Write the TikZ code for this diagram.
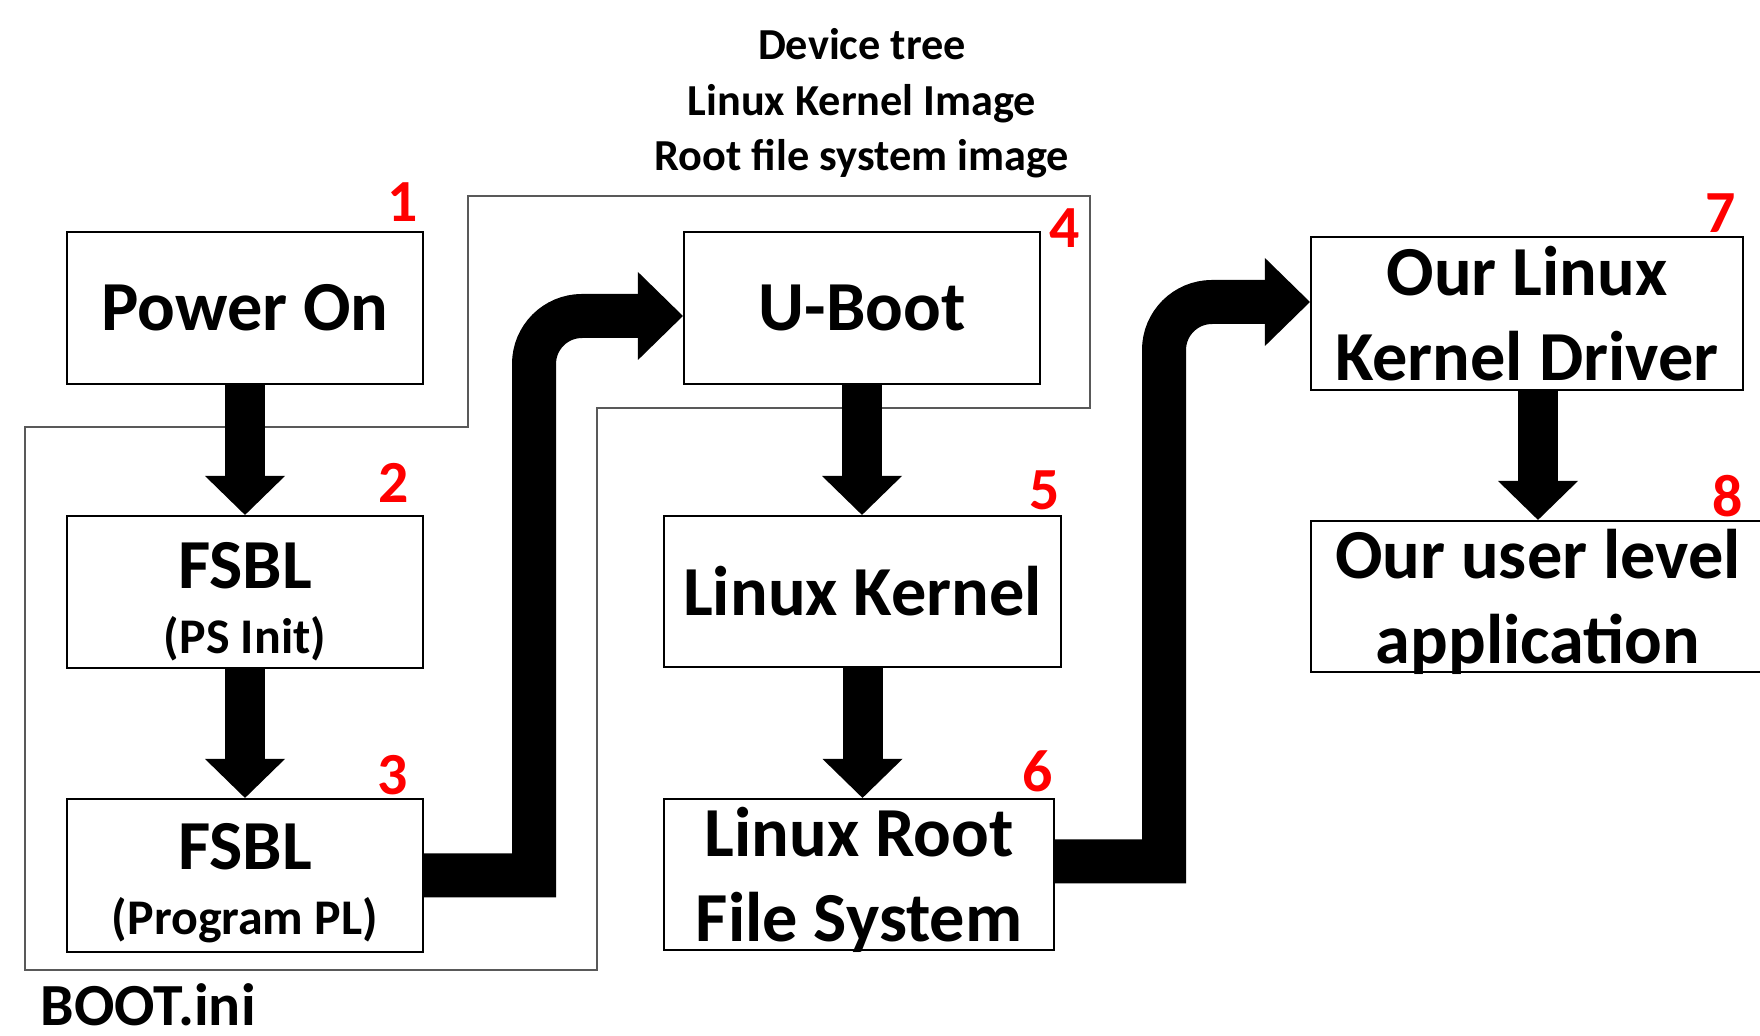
\documentclass[tikz,border=0pt]{standalone}
\usepackage{fontspec}
\setmainfont{Carlito}
\usetikzlibrary{arrows.meta}

\newcommand{\lift}[1]{\rule{0pt}{#1}}

\begin{document}
\begin{tikzpicture}[
    box/.style={draw, line width=0.6pt, inner sep=0pt, align=center, font=\fontsize{20}{24}\selectfont\bfseries},
    twoline/.style={font=\fontsize{20}{18.4}\selectfont\bfseries},
    num/.style={text=red, inner sep=0pt, font=\fontsize{17}{17}\selectfont\bfseries},
    fat/.style={line width=4mm, -{Triangle[length=3.9mm, width=8mm, line width=0pt]}},
    fatbend/.style={line width=4.4mm, -{Triangle[length=4.5mm, width=8.8mm, line width=0pt]}},
    frame/.style={draw=black!65, line width=0.5pt}
]

    \useasboundingbox (0,0) rectangle (17.6,10.36);

    \draw [frame] (0.25,6.09) -- (4.68,6.09) -- (4.68,8.40) -- (10.90,8.40) -- (10.90,6.28) -- (5.97,6.28) -- (5.97,0.66) -- (0.25,0.66) -- cycle;

    \node [box, minimum width=3.56cm, minimum height=1.52cm] (a) at (2.45, 7.28) {Power On};
    \node [box, twoline, minimum width=3.56cm, minimum height=1.52cm] (b) at (2.45, 4.44) {\lift{18.5pt}FSBL\\{\fontsize{14.2}{15}\selectfont (PS Init)}};
    \node [box, twoline, minimum width=3.56cm, minimum height=1.53cm] (c) at (2.45, 1.605) {\lift{17.5pt}FSBL\\{\fontsize{14.2}{15}\selectfont (Program PL)}};
    \node [box, minimum width=3.56cm, minimum height=1.52cm] (d) at (8.62, 7.28) {U-Boot};
    \node [box, minimum width=3.97cm, minimum height=1.51cm] (e) at (8.625, 4.445) {Linux Kernel};
    \node [box, text depth=0pt, minimum width=3.90cm, minimum height=1.51cm] (f) at (8.59, 1.615) {Linux Root\\File System};
    \node [box, text depth=0pt, minimum width=4.32cm, minimum height=1.53cm] (g) at (15.27, 7.225) {Our Linux\\Kernel Driver};
    \node [box, text depth=0pt, minimum width=4.54cm, minimum height=1.51cm] (h) at (15.38, 4.395) {Our user level\\application};

    \node [num] (i) at (4.03, 8.34) {1};
    \node [num] (j) at (3.94, 5.53) {2};
    \node [num] (k) at (3.93, 2.61) {3};
    \node [num] (l) at (10.65, 8.08) {4};
    \node [num] (m) at (10.45, 5.46) {5};
    \node [num] (n) at (10.38, 2.65) {6};
    \node [num] (o) at (17.21, 8.23) {7};
    \node [num] (p) at (17.28, 5.40) {8};

    \node [font=\fontsize{12.6}{15.8}\selectfont\bfseries, align=center, anchor=north, inner sep=0pt] (q) at (8.62, 10.08) {Device tree\\Linux Kernel Image\\Root file system image};
    \node [font=\fontsize{17}{17}\selectfont\bfseries, anchor=base west, inner sep=0pt] (r) at (0.40, 0.10) {BOOT.ini};

    \draw [fat] (a) to (b);
    \draw [fat] (b) to (c);
    \draw [fat] (d.south) to (d.south |- e.north);
    \draw [fat] (e.south) to (e.south |- f.north);
    \draw [fat] (g.south -| h.north) to (h.north);
    \draw [fatbend] (c.east) -- (5.34, 1.605) [rounded corners=4.8mm] -- (5.34, 7.20) -- ([yshift=-0.08cm]d.west);
    \draw [fatbend] ([yshift=0.13cm]f.east) -- (11.64, 1.745) [rounded corners=4.8mm] -- (11.64, 7.34) -- ([yshift=0.115cm]g.west);

\end{tikzpicture}
\end{document}
